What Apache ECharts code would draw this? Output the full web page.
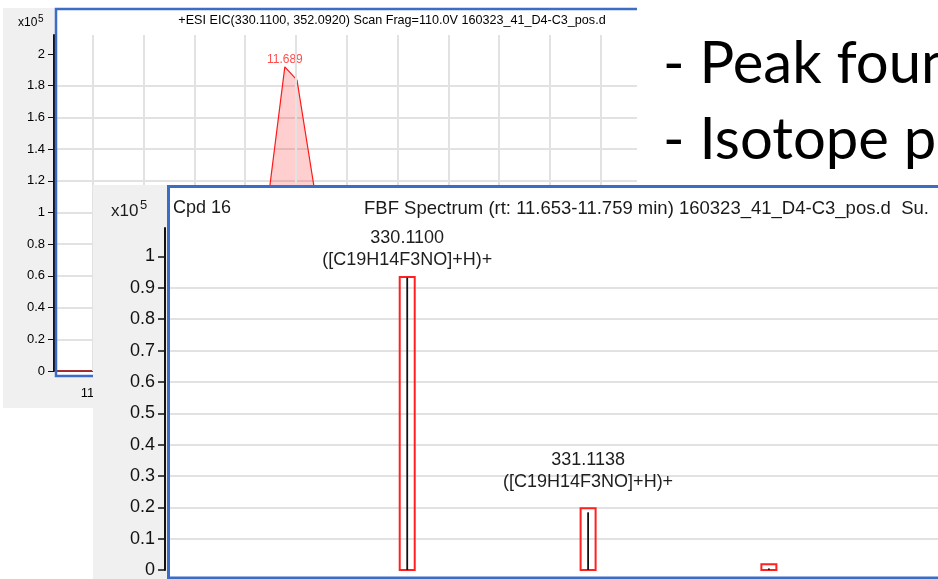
<!DOCTYPE html>
<html><head><meta charset="utf-8">
<script src="https://cdn.jsdelivr.net/npm/echarts@6/dist/echarts.min.js"></script>
<style>html,body{margin:0;padding:0;background:#fff}#c{width:938px;height:579px}</style>
</head><body><div id="c"></div>
<script>
// ---- EIC chromatogram (back window), intensity in x10^5 counts ----
const eicTime      = [11.20, 11.30, 11.55, 11.62, 11.64, 11.678, 11.702, 11.76, 11.79, 11.85, 12.00, 12.40];
const eicIntensity = [0,     0,     0.01,  0.08,  0.95,  1.919,  1.835,  0.67,  0.12,  0.03,  0.01,  0];
const eicApexLabel = '11.689';
const eicYTicks = [0, 0.2, 0.4, 0.6, 0.8, 1, 1.2, 1.4, 1.6, 1.8, 2];
const eicXTicks = [11.3, 11.4, 11.5, 11.6, 11.7, 11.8, 11.9, 12.0, 12.1, 12.2, 12.3];
const eicTitle = '+ESI EIC(330.1100, 352.0920) Scan Frag=110.0V 160323_41_D4-C3_pos.d';

// ---- FBF spectrum (front window), abundance in x10^5 counts ----
const specMz        = [330.1100, 331.1138, 332.117];
const specObserved  = [0.932, 0.184, 0.005];
const specPredicted = [0.935, 0.197, 0.018];
const specLabels    = ['330.1100\n([C19H14F3NO]+H)+', '331.1138\n([C19H14F3NO]+H)+', ''];
const specYTicks = [0, 0.1, 0.2, 0.3, 0.4, 0.5, 0.6, 0.7, 0.8, 0.9, 1];
const specXGrid  = [329, 329.5, 330, 330.5, 331, 331.5, 332, 332.5, 333];
const specTitleA = 'Cpd 16';
const specTitleB = 'FBF Spectrum (rt: 11.653-11.759 min) 160323_41_D4-C3_pos.d  Su.';

// ---- slide bullets ----
const bullets = ['- Peak found', '- Isotope pattern'];

const BLUE = '#3b6dc6', GRIDC = '#e2e2e2', PANEL = '#f0f0f0';
const UI = '"Liberation Sans", Arial, sans-serif';
const labelGap = [6, 15, 0];

const chart = echarts.init(document.getElementById('c'), null, {renderer: 'canvas', width: 938, height: 579});

const apexIdx = eicIntensity.indexOf(Math.max(...eicIntensity));

const option = {
  animation: false,
  backgroundColor: '#ffffff',
  grid: [
    {left: 57, top: 35, width: 580, height: 336},
    {left: 170, top: 228, right: 0, height: 348}
  ],
  xAxis: [
    {gridIndex: 0, type: 'value', min: 11.2295, max: 12.3713, z: 2, offset: 8,
     axisLine: {show: true, lineStyle: {color: '#111', width: 1.5}},
     axisTick: {show: true, length: 6, customValues: eicXTicks, lineStyle: {color: '#111'}},
     axisLabel: {customValues: eicXTicks, formatter: v => v.toFixed(1), fontSize: 13, color: '#000', margin: 8, fontFamily: UI},
     splitLine: {show: false}},
    {gridIndex: 1, type: 'value', min: 328.7936, max: 333.0555, show: false, splitLine: {show: false}}
  ],
  yAxis: [
    {gridIndex: 0, type: 'value', min: 0, max: 2.12, interval: 0.2, z: 2, offset: 3,
     axisLine: {show: true, lineStyle: {color: '#111', width: 2}},
     axisTick: {show: true, length: 6, customValues: eicYTicks, lineStyle: {color: '#111'}},
     axisLabel: {customValues: eicYTicks, fontSize: 13, color: '#000', margin: 9, fontFamily: UI},
     splitLine: {show: true, showMaxLine: false, showMinLine: false, lineStyle: {color: GRIDC, width: 2}}},
    {gridIndex: 1, type: 'value', min: 0, max: 1.091, interval: 0.1, z: 12, offset: 5,
     axisLine: {show: true, lineStyle: {color: '#111', width: 2}},
     axisTick: {show: true, length: 7, customValues: specYTicks, lineStyle: {color: '#111', width: 1.5}},
     axisLabel: {customValues: specYTicks, fontSize: 18, color: '#111', margin: 10, fontFamily: UI},
     splitLine: {show: true, showMaxLine: false, showMinLine: false, lineStyle: {color: GRIDC, width: 2}}}
  ],
  series: [
    {type: 'line', xAxisIndex: 0, yAxisIndex: 0, data: [], z: 2, silent: true,
     markLine: {silent: true, symbol: 'none', animation: false, label: {show: false},
       lineStyle: {color: GRIDC, width: 2, type: 'solid'},
       data: eicXTicks.map(v => ({xAxis: v}))}},
    {type: 'line', xAxisIndex: 0, yAxisIndex: 0, z: 3, symbol: 'none', silent: true,
     data: eicTime.map((t, i) => [t, eicIntensity[i]]),
     lineStyle: {color: '#ff1a1a', width: 1.2},
     areaStyle: {color: 'rgba(255,0,0,0.27)'}},
    {type: 'scatter', xAxisIndex: 0, yAxisIndex: 0, z: 4, silent: true, symbolSize: 1,
     itemStyle: {color: 'rgba(0,0,0,0)'},
     data: [[eicTime[apexIdx], eicIntensity[apexIdx]]],
     label: {show: true, position: 'top', distance: 1, formatter: eicApexLabel, color: '#ff2020', fontSize: 12, fontFamily: UI}},
    {type: 'line', xAxisIndex: 1, yAxisIndex: 1, data: [], z: 12, silent: true,
     markLine: {silent: true, symbol: 'none', animation: false, label: {show: false},
       lineStyle: {color: GRIDC, width: 2, type: 'solid'},
       data: specXGrid.map(v => ({xAxis: v}))}},
    {type: 'custom', xAxisIndex: 1, yAxisIndex: 1, z: 13, silent: true,
     data: specMz.map((m, i) => [m, specPredicted[i], i]),
     renderItem: function (params, api) {
       const x = api.value(0), h = api.value(1), i = api.value(2);
       const p0 = api.coord([x, 0]), p1 = api.coord([x, h]);
       const hw = 7.5;
       const children = [{type: 'rect', shape: {x: p0[0] - hw, y: p1[1], width: 2 * hw, height: p0[1] - p1[1]},
         style: {fill: 'none', stroke: '#ff2020', lineWidth: 2}}];
       if (specLabels[i]) {
         children.push({type: 'text', x: p0[0], y: p1[1] - labelGap[i],
           style: {text: specLabels[i], fill: '#1e1e1e', font: '18px ' + UI, align: 'center', verticalAlign: 'bottom', lineHeight: 22}});
       }
       return {type: 'group', children: children};
     }},
    {type: 'custom', xAxisIndex: 1, yAxisIndex: 1, z: 13, silent: true,
     data: specMz.map((m, i) => [m, specObserved[i]]),
     renderItem: function (params, api) {
       const p0 = api.coord([api.value(0), 0]), p1 = api.coord([api.value(0), api.value(1)]);
       return {type: 'line', shape: {x1: p0[0], y1: p0[1], x2: p1[0], y2: p1[1]}, style: {stroke: '#111', lineWidth: 1.8}};
     }}
  ],
  graphic: [
    // back window
    {type: 'rect', z: 0, shape: {x: 3, y: 8, width: 634, height: 400}, style: {fill: PANEL}},
    {type: 'rect', z: 1, shape: {x: 55, y: 8, width: 582, height: 368}, style: {fill: '#fff'}},
    {type: 'polyline', z: 4, shape: {points: [[637, 9], [56, 9], [56, 376], [93, 376]]}, style: {stroke: BLUE, lineWidth: 2.5, fill: 'none'}},
    {type: 'text', z: 4, x: 392, y: 21, style: {text: eicTitle, font: '12.6px ' + UI, fill: '#000', align: 'center', verticalAlign: 'middle', textAlign: 'center', textVerticalAlign: 'middle'}},
    {type: 'text', z: 4, x: 18, y: 23, style: {text: 'x10', font: '12px ' + UI, fill: '#000', align: 'left', verticalAlign: 'middle', textAlign: 'left', textVerticalAlign: 'middle'}},
    {type: 'text', z: 4, x: 38, y: 19, style: {text: '5', font: '10px ' + UI, fill: '#000', align: 'left', verticalAlign: 'middle', textAlign: 'left', textVerticalAlign: 'middle'}},
    // slide bullets
    {type: 'text', z: 1, x: 663, y: 64, style: {text: bullets[0], font: '58px Lato', fill: '#000', align: 'left', verticalAlign: 'middle', textAlign: 'left', textVerticalAlign: 'middle'}},
    {type: 'text', z: 1, x: 663, y: 140, style: {text: bullets[1], font: '58px Lato', fill: '#000', align: 'left', verticalAlign: 'middle', textAlign: 'left', textVerticalAlign: 'middle'}},
    // front window
    {type: 'rect', z: 10, shape: {x: 93, y: 185, width: 845, height: 394}, style: {fill: PANEL}},
    {type: 'rect', z: 11, shape: {x: 168, y: 185, width: 770, height: 394}, style: {fill: '#fff'}},
    {type: 'polyline', z: 14, shape: {points: [[938, 186.5], [168.5, 186.5], [168.5, 578], [938, 578]]}, style: {stroke: BLUE, lineWidth: 3, fill: 'none'}},
    {type: 'text', z: 14, x: 111, y: 211, style: {text: 'x10', font: '17px ' + UI, fill: '#1a1a1a', align: 'left', verticalAlign: 'middle', textAlign: 'left', textVerticalAlign: 'middle'}},
    {type: 'text', z: 14, x: 140, y: 205, style: {text: '5', font: '13px ' + UI, fill: '#1a1a1a', align: 'left', verticalAlign: 'middle', textAlign: 'left', textVerticalAlign: 'middle'}},
    {type: 'text', z: 14, x: 173, y: 208, style: {text: specTitleA, font: '18px ' + UI, fill: '#1a1a1a', align: 'left', verticalAlign: 'middle', textAlign: 'left', textVerticalAlign: 'middle'}},
    {type: 'text', z: 14, x: 364, y: 209, style: {text: specTitleB, font: '18.5px ' + UI, fill: '#1a1a1a', align: 'left', verticalAlign: 'middle', textAlign: 'left', textVerticalAlign: 'middle'}}
  ]
};
chart.setOption(option);
</script>
</body></html>
